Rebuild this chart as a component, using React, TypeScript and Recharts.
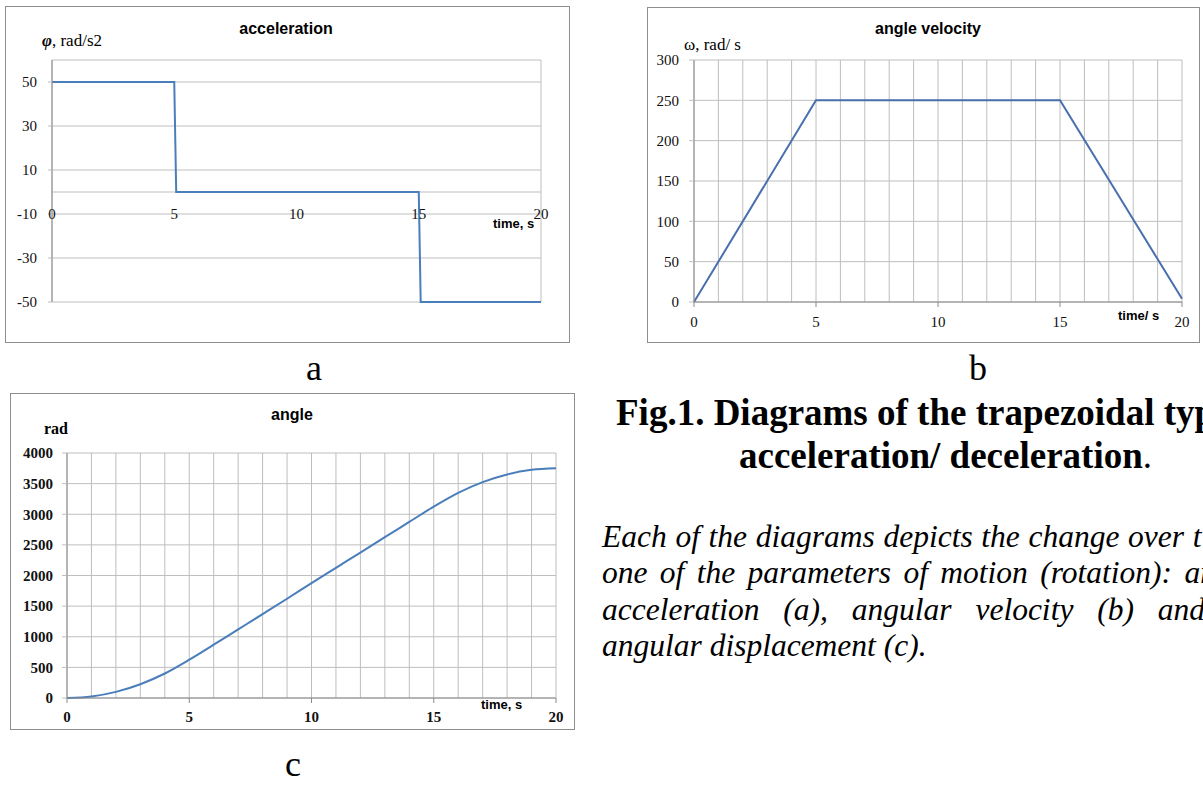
import React from 'react';
import {
  LineChart,
  Line,
  XAxis,
  YAxis,
  CartesianGrid,
  ReferenceLine,
  ReferenceDot,
} from 'recharts';

// shared time axis (seconds)
const timeTicks = [0, 1, 2, 3, 4, 5, 6, 7, 8, 9, 10, 11, 12, 13, 14, 15, 16, 17, 18, 19, 20];
const majorTimes = [0, 5, 10, 15, 20];

// (a) angular acceleration, rad/s2
const accelTime = [0, 5, 5.08, 15, 15.08, 20];
const accelValues = [50, 50, 0, 0, -50, -50];
const accelTicks = [-50, -30, -10, 10, 30, 50];

// (b) angular velocity, rad/s
const velocityTime = [0, 5, 15, 20];
const velocityValues = [0, 250, 250, 4];
const velocityTicks = [0, 50, 100, 150, 200, 250, 300];

// (c) angle, rad
const angleTime = [0, 1, 2, 3, 4, 5, 6, 7, 8, 9, 10, 11, 12, 13, 14, 15, 16, 17, 18, 19, 20];
const angleValues = [0, 25, 100, 225, 400, 625, 870, 1120, 1370, 1620, 1875, 2125, 2375, 2625, 2875, 3125, 3350, 3525, 3650, 3725, 3750];
const angleTicks = [0, 500, 1000, 1500, 2000, 2500, 3000, 3500, 4000];

const accelData = accelTime.map((t, i) => ({ t, v: accelValues[i] }));
const velocityData = velocityTime.map((t, i) => ({ t, v: velocityValues[i] }));
const angleData = angleTime.map((t, i) => ({ t, v: angleValues[i] }));

const GRID = '#BEBEBE';
const AXIS = '#8A8A8A';
const BORDER = '#8E8E8E';
const BLUE = '#4A7EBB';
const BLUE_DARK = '#4A6FAE';
const SERIF = "'Liberation Serif', 'Times New Roman', serif";
const SANS = "'Liberation Sans', Arial, sans-serif";

const Txt = ({ left, top, style, children }: { left: number; top: number; style?: React.CSSProperties; children: React.ReactNode }) => (
  <div style={{ position: 'absolute', left, top, whiteSpace: 'nowrap', lineHeight: 1, color: '#000', ...style }}>
    {children}
  </div>
);

const Box = ({ left, top, width, height }: { left: number; top: number; width: number; height: number }) => (
  <div style={{ position: 'absolute', left, top, width, height, border: `1px solid ${BORDER}`, boxSizing: 'border-box' }} />
);

const renderTimeTick = (gap: number, bold: boolean) => (props: any) => {
  const { x, y, payload } = props;
  if (!majorTimes.includes(payload.value)) return <g />;
  return (
    <g>
      <line x1={x} y1={y} x2={x} y2={y + 5} stroke={AXIS} />
      <text
        x={x}
        y={y + gap}
        dy="0.35em"
        textAnchor="middle"
        fontFamily={SERIF}
        fontSize={15}
        fontWeight={bold ? 700 : 400}
        fill="#111"
      >
        {payload.value}
      </text>
    </g>
  );
};

const serifTick = { fontFamily: SERIF, fontSize: 15, fill: '#111' };

export default function App() {
  return (
    <div style={{ position: 'absolute', left: 0, top: 0, width: 1203, height: 789, overflow: 'hidden', background: '#fff' }}>
      {/* ---------- (a) acceleration ---------- */}
      <Box left={5} top={6} width={565} height={337} />
      <div style={{ position: 'absolute', left: 5, top: 6 }}>
        <LineChart width={565} height={337} data={accelData} margin={{ top: 54, right: 29, bottom: 40, left: 0 }}>
          <CartesianGrid stroke={GRID} />
          <XAxis type="number" dataKey="t" domain={[0, 20]} ticks={timeTicks} interval={0} tick={false} tickLine={false} axisLine={false} height={1} />
          <YAxis
            type="number"
            domain={[-50, 60]}
            ticks={accelTicks}
            interval={0}
            width={47}
            tickSize={4}
            tickMargin={11}
            axisLine={{ stroke: AXIS }}
            tickLine={{ stroke: GRID }}
            tick={serifTick}
          />
          <ReferenceLine y={0} stroke={GRID} />
          {majorTimes.map((t) => (
            <ReferenceDot
              key={t}
              x={t}
              y={0}
              r={0}
              fill="none"
              stroke="none"
              label={{ value: String(t), position: 'bottom', offset: 16, fontFamily: SERIF, fontSize: 15, fill: '#111' }}
            />
          ))}
          <Line type="linear" dataKey="v" stroke={BLUE} strokeWidth={2} dot={false} isAnimationActive={false} />
        </LineChart>
      </div>
      <Txt left={186} top={21} style={{ width: 200, textAlign: 'center', fontFamily: SANS, fontWeight: 700, fontSize: 16 }}>acceleration</Txt>
      <Txt left={42} top={32} style={{ fontFamily: SERIF, fontSize: 17 }}>
        <b><i>φ</i></b>, rad/s2
      </Txt>
      <Txt left={493} top={217} style={{ fontFamily: SANS, fontWeight: 700, fontSize: 13 }}>time, s</Txt>

      {/* ---------- (b) angle velocity ---------- */}
      <Box left={647} top={7} width={553} height={336} />
      <div style={{ position: 'absolute', left: 647, top: 7 }}>
        <LineChart width={553} height={336} data={velocityData} margin={{ top: 53, right: 18, bottom: 0, left: 0 }}>
          <CartesianGrid stroke={GRID} />
          <XAxis
            type="number"
            dataKey="t"
            domain={[0, 20]}
            ticks={timeTicks}
            interval={0}
            height={41}
            tickSize={0}
            tickMargin={0}
            tickLine={false}
            axisLine={{ stroke: AXIS }}
            tick={renderTimeTick(20, false)}
          />
          <YAxis
            type="number"
            domain={[0, 300]}
            ticks={velocityTicks}
            interval={0}
            width={47}
            tickSize={5}
            tickMargin={10}
            axisLine={{ stroke: AXIS }}
            tickLine={{ stroke: GRID }}
            tick={serifTick}
          />
          <Line type="linear" dataKey="v" stroke={BLUE_DARK} strokeWidth={2} dot={false} isAnimationActive={false} />
        </LineChart>
      </div>
      <Txt left={828} top={21} style={{ width: 200, textAlign: 'center', fontFamily: SANS, fontWeight: 700, fontSize: 16 }}>angle velocity</Txt>
      <Txt left={684} top={36} style={{ fontFamily: SERIF, fontSize: 17 }}>ω, rad/ s</Txt>
      <Txt left={1118} top={309} style={{ fontFamily: SANS, fontWeight: 700, fontSize: 13 }}>time/ s</Txt>

      {/* ---------- (c) angle ---------- */}
      <Box left={10} top={393} width={565} height={337} />
      <div style={{ position: 'absolute', left: 10, top: 393 }}>
        <LineChart width={565} height={337} data={angleData} margin={{ top: 60, right: 19, bottom: 0, left: 0 }}>
          <CartesianGrid stroke={GRID} />
          <XAxis
            type="number"
            dataKey="t"
            domain={[0, 20]}
            ticks={timeTicks}
            interval={0}
            height={32}
            tickSize={0}
            tickMargin={0}
            tickLine={false}
            axisLine={{ stroke: AXIS }}
            tick={renderTimeTick(19, true)}
          />
          <YAxis
            type="number"
            domain={[0, 4000]}
            ticks={angleTicks}
            interval={0}
            width={57}
            tickSize={5}
            tickMargin={9}
            axisLine={{ stroke: AXIS }}
            tickLine={{ stroke: GRID }}
            tick={{ ...serifTick, fontWeight: 700 }}
          />
          <Line type="monotone" dataKey="v" stroke={BLUE} strokeWidth={2} dot={false} isAnimationActive={false} />
        </LineChart>
      </div>
      <Txt left={192} top={407} style={{ width: 200, textAlign: 'center', fontFamily: SANS, fontWeight: 700, fontSize: 16 }}>angle</Txt>
      <Txt left={44} top={421} style={{ fontFamily: SERIF, fontWeight: 700, fontSize: 16 }}>rad</Txt>
      <Txt left={481} top={698} style={{ fontFamily: SANS, fontWeight: 700, fontSize: 13 }}>time, s</Txt>

      {/* ---------- panel letters ---------- */}
      <Txt left={306} top={350} style={{ fontFamily: SERIF, fontSize: 36 }}>a</Txt>
      <Txt left={969} top={350} style={{ fontFamily: SERIF, fontSize: 36 }}>b</Txt>
      <Txt left={285} top={746} style={{ fontFamily: SERIF, fontSize: 36 }}>c</Txt>

      {/* ---------- figure caption ---------- */}
      <Txt left={616} top={394} style={{ fontFamily: SERIF, fontWeight: 700, fontSize: 37 }}>
        Fig.1. Diagrams of the trapezoidal type of
      </Txt>
      <Txt left={739} top={437} style={{ fontFamily: SERIF, fontWeight: 700, fontSize: 37 }}>
        acceleration/ deceleration<span style={{ fontWeight: 400 }}>.</span>
      </Txt>

      <Txt left={602} top={521} style={{ fontFamily: SERIF, fontStyle: 'italic', fontSize: 31.5, wordSpacing: 0.8 }}>
        Each of the diagrams depicts the change over time
      </Txt>
      <Txt left={602} top={557} style={{ fontFamily: SERIF, fontStyle: 'italic', fontSize: 31.5, wordSpacing: 4.5 }}>
        one of the parameters of motion (rotation): angular
      </Txt>
      <Txt left={602} top={594} style={{ fontFamily: SERIF, fontStyle: 'italic', fontSize: 31.5, wordSpacing: 16 }}>
        acceleration (a), angular velocity (b) and
      </Txt>
      <Txt left={602} top={630} style={{ fontFamily: SERIF, fontStyle: 'italic', fontSize: 31.5 }}>
        angular displacement (c).
      </Txt>
    </div>
  );
}
